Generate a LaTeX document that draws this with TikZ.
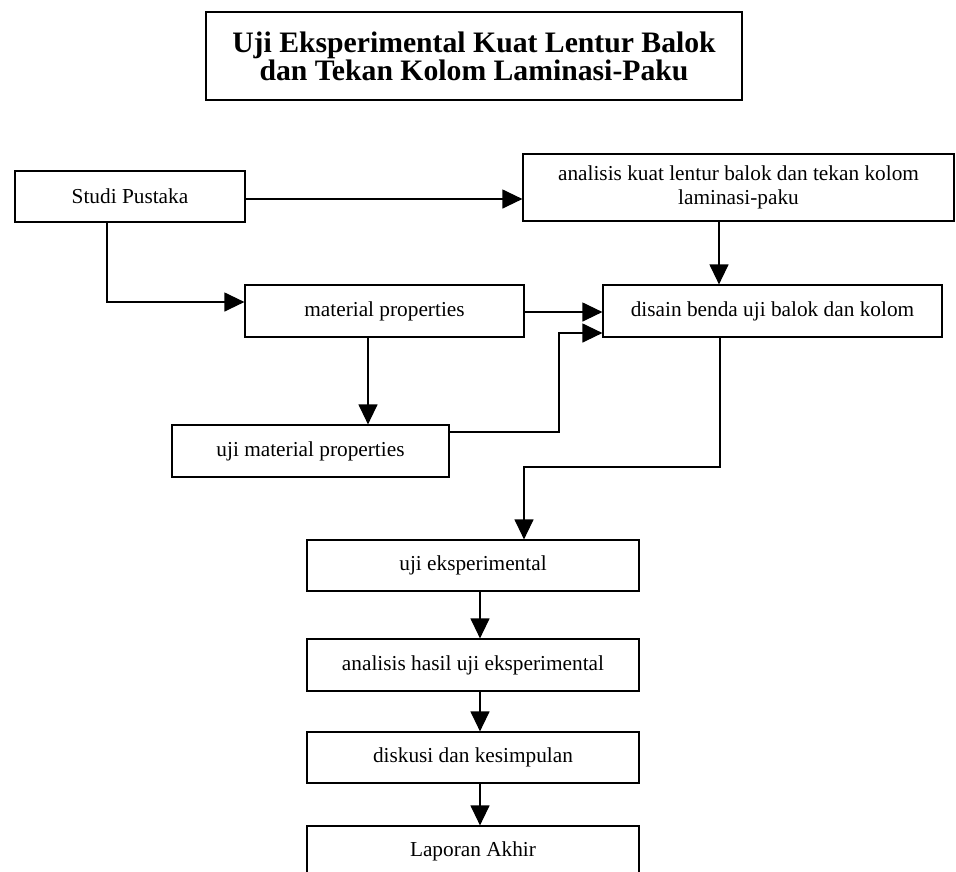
\documentclass[tikz,border=0pt]{standalone}
\usepackage{fontspec}
\setmainfont{Liberation Serif}
\usetikzlibrary{arrows.meta}
\tikzset{
  box/.style={draw=black, line width=1.2pt, rectangle, inner sep=0pt, align=center,
    font=\fontsize{21.3}{24}\selectfont},
  titlebox/.style={draw=black, line width=1.2pt, rectangle, inner sep=0pt, align=center,
    font=\fontsize{29.7}{28}\selectfont\bfseries},
  arr/.style={line width=1.2pt, -{Triangle[length=20pt,width=19pt]}},
}
\begin{document}
\begin{tikzpicture}[x=1pt,y=-1pt]
\clip (0,0) rectangle (956,871);
\fill[white] (0,0) rectangle (956,871);
\node[titlebox, minimum width=536pt, minimum height=88pt] (title) at (474,56)
  {Uji Eksperimental Kuat Lentur Balok\\dan Tekan Kolom Laminasi-Paku};
\node[box, minimum width=230pt, minimum height=51pt] (studi) at (130,196.5) {Studi Pustaka};
\node[box, minimum width=431pt, minimum height=67pt] (analisis) at (738.5,187.5)
  {analisis kuat lentur balok dan tekan kolom\\laminasi-paku};
\node[box, minimum width=339pt, minimum height=52pt] (disain) at (772.5,311) {disain benda uji balok dan kolom};
\node[box, minimum width=279pt, minimum height=52pt] (material) at (384.5,311) {material properties};
\node[box, minimum width=277pt, minimum height=52pt] (ujimat) at (310.5,451) {uji material properties};
\node[box, minimum width=332pt, minimum height=51pt] (ujieksp) at (473,565.5) {uji eksperimental};
\node[box, minimum width=332pt, minimum height=52pt] (hasil) at (473,665) {analisis hasil uji eksperimental};
\node[box, minimum width=332pt, minimum height=51pt] (diskusi) at (473,757.5) {diskusi dan kesimpulan};
\node[box, minimum width=332pt, minimum height=51pt] (laporan) at (473,851.5) {Laporan Akhir};
% connectors
\draw[arr] (studi.east |- 0,199) -- (analisis.west |- 0,199);
\draw[arr] (studi.south -| 107,0) |- (material.west |- 0,302);
\draw[arr] (analisis.south -| 719,0) -- (disain.north -| 719,0);
\draw[arr] (material.east |- 0,312) -- (disain.west |- 0,312);
\draw[arr] (material.south -| 368,0) -- (ujimat.north -| 368,0);
\draw[arr] (ujimat.east |- 0,432) -- (559,432) |- (disain.west |- 0,333);
\draw[arr] (disain.south -| 720,0) -- (720,467) -| (ujieksp.north -| 524,0);
\draw[arr] (ujieksp.south -| 480,0) -- (hasil.north -| 480,0);
\draw[arr] (hasil.south -| 480,0) -- (diskusi.north -| 480,0);
\draw[arr] (diskusi.south -| 480,0) -- (laporan.north -| 480,0);
\end{tikzpicture}
\end{document}
